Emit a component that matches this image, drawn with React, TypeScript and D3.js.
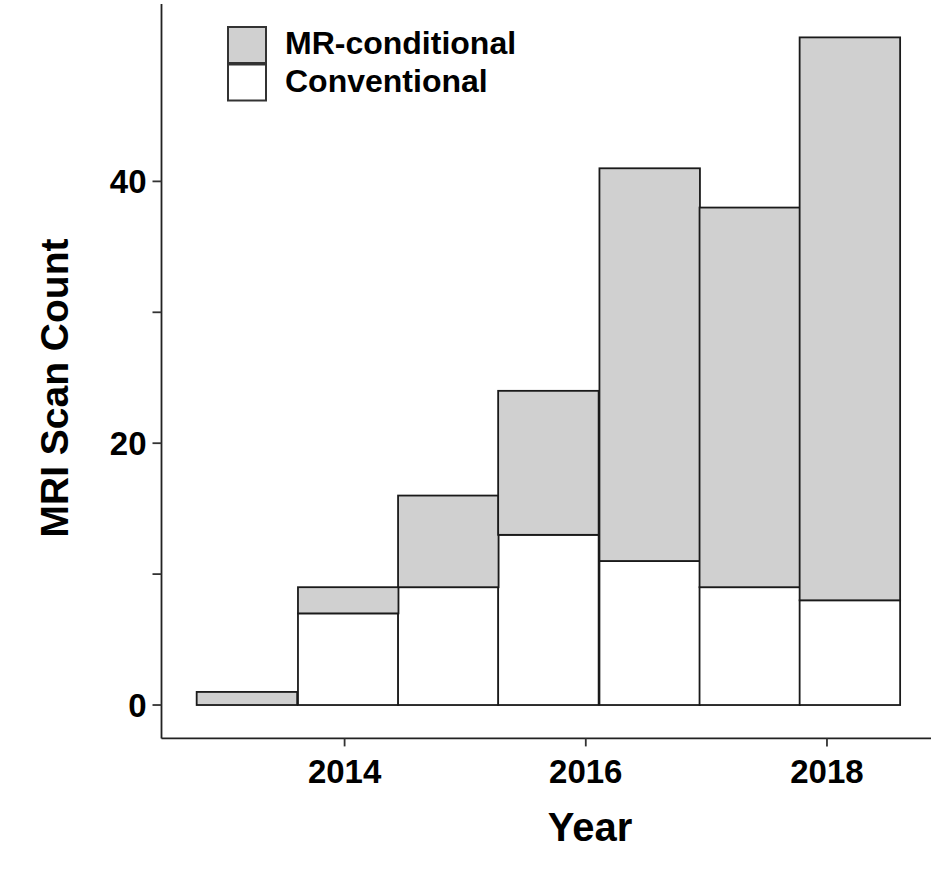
import React, { useEffect, useRef } from 'react';
import * as d3 from 'd3';

// histogram bins (year, bin centre) and counts per device type
const binCenters = [2013.19, 2014.03, 2014.86, 2015.69, 2016.53, 2017.36, 2018.19];
const binWidth = 5 / 6;
const conventional = [0, 7, 9, 13, 11, 9, 8];
const mrConditional = [1, 2, 7, 11, 30, 29, 43];

const xTicks = [2014, 2016, 2018];
const yTicks = [0, 10, 20, 30, 40];
const yLabelled = [0, 20, 40];

const SERIES = [
  { key: 'conventional', label: 'Conventional', fill: '#ffffff' },
  { key: 'mrConditional', label: 'MR-conditional', fill: '#d0d0d0' },
];

const W = 931;
const H = 887;
const FONT = '"Liberation Sans", Arial, Helvetica, sans-serif';

const App: React.FC = () => {
  const svgRef = useRef<SVGSVGElement>(null);

  useEffect(() => {
    if (!svgRef.current) return;
    const svg = d3.select(svgRef.current);
    svg.selectAll('*').remove();

    const panel = { left: 161.5, right: 935.3, top: 4, bottom: 738.4 };

    const rows = binCenters.map((c, i) => ({
      center: c,
      conventional: conventional[i],
      mrConditional: mrConditional[i],
    }));

    const xMin = binCenters[0] - binWidth / 2;
    const xMax = binCenters[binCenters.length - 1] + binWidth / 2;
    const xPad = (xMax - xMin) * 0.05;
    const x = d3.scaleLinear().domain([xMin - xPad, xMax + xPad]).range([panel.left, panel.right]);

    const yMax = d3.max(rows, (r) => r.conventional + r.mrConditional)!;
    const yPad = yMax * 0.05;
    const y = d3.scaleLinear().domain([-yPad, yMax + yPad]).range([panel.bottom, panel.top]);

    const stack = d3.stack<any>().keys(SERIES.map((s) => s.key));
    const layers = stack(rows);

    layers.forEach((layer, li) => {
      const s = SERIES[li];
      svg
        .append('g')
        .selectAll('rect')
        .data(layer)
        .join('rect')
        .attr('x', (d: any) => x(d.data.center - binWidth / 2))
        .attr('width', (d: any) => x(d.data.center + binWidth / 2) - x(d.data.center - binWidth / 2))
        .attr('y', (d) => y(d[1]))
        .attr('height', (d) => y(d[0]) - y(d[1]))
        .attr('fill', s.fill)
        .attr('stroke', '#1a1a1a')
        .attr('stroke-width', (d) => (d[1] - d[0] > 0 ? 1.8 : 0));
    });

    // axes
    const axisColor = '#222';
    svg
      .append('line')
      .attr('x1', panel.left)
      .attr('x2', panel.left)
      .attr('y1', panel.top)
      .attr('y2', panel.bottom)
      .attr('stroke', axisColor)
      .attr('stroke-width', 1.8);
    svg
      .append('line')
      .attr('x1', panel.left)
      .attr('x2', panel.right)
      .attr('y1', panel.bottom)
      .attr('y2', panel.bottom)
      .attr('stroke', axisColor)
      .attr('stroke-width', 1.8);

    yTicks.forEach((t) => {
      svg
        .append('line')
        .attr('x1', panel.left - 9)
        .attr('x2', panel.left)
        .attr('y1', y(t))
        .attr('y2', y(t))
        .attr('stroke', '#333')
        .attr('stroke-width', 1.8);
      if (yLabelled.includes(t)) {
        svg
          .append('text')
          .attr('x', panel.left - 15)
          .attr('y', y(t))
          .attr('dy', '0.36em')
          .attr('text-anchor', 'end')
          .attr('font-family', FONT)
          .attr('font-weight', 'bold')
          .attr('font-size', 33)
          .attr('fill', '#000')
          .text(t);
      }
    });

    xTicks.forEach((t) => {
      svg
        .append('line')
        .attr('x1', x(t))
        .attr('x2', x(t))
        .attr('y1', panel.bottom)
        .attr('y2', panel.bottom + 8)
        .attr('stroke', '#333')
        .attr('stroke-width', 1.8);
      svg
        .append('text')
        .attr('x', x(t))
        .attr('y', 783)
        .attr('text-anchor', 'middle')
        .attr('font-family', FONT)
        .attr('font-weight', 'bold')
        .attr('font-size', 33)
        .attr('fill', '#000')
        .text(t);
    });

    svg
      .append('text')
      .attr('x', 590)
      .attr('y', 841)
      .attr('text-anchor', 'middle')
      .attr('font-family', FONT)
      .attr('font-weight', 'bold')
      .attr('font-size', 40)
      .attr('fill', '#000')
      .text('Year');

    svg
      .append('text')
      .attr('transform', 'translate(68, 388) rotate(-90)')
      .attr('text-anchor', 'middle')
      .attr('font-family', FONT)
      .attr('font-weight', 'bold')
      .attr('font-size', 39)
      .attr('fill', '#000')
      .text('MRI Scan Count');

    // legend (MR-conditional first)
    const legendItems = [SERIES[1], SERIES[0]];
    const lg = svg.append('g').attr('transform', 'translate(228, 27)');
    legendItems.forEach((s, i) => {
      lg.append('rect')
        .attr('x', 0)
        .attr('y', i * 37.5)
        .attr('width', 38)
        .attr('height', 36)
        .attr('fill', s.fill)
        .attr('stroke', '#333')
        .attr('stroke-width', 2);
      lg.append('text')
        .attr('x', 57)
        .attr('y', i * 38.5 + 26.5)
        .attr('font-family', FONT)
        .attr('font-weight', 'bold')
        .attr('font-size', 32)
        .attr('fill', '#000')
        .text(s.label);
    });
  }, []);

  return (
    <svg
      ref={svgRef}
      width={W}
      height={H}
      style={{ position: 'absolute', left: 0, top: 0, background: '#fff' }}
    />
  );
};

export default App;
